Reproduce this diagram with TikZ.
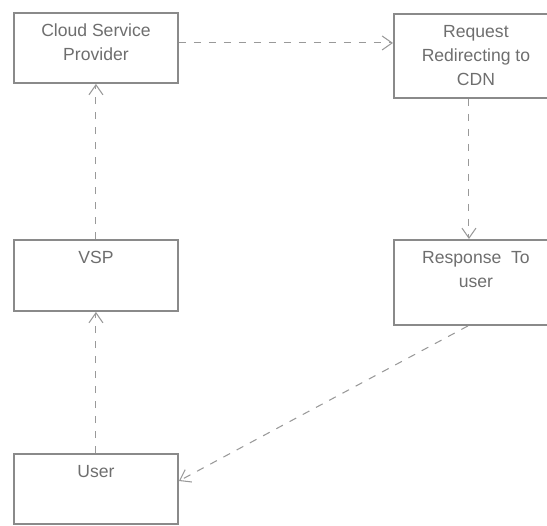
\documentclass[tikz,border=0pt]{standalone}
\usepackage{fontspec}
\setmainfont{Liberation Sans}
\usetikzlibrary{arrows.meta}
\definecolor{boxgray}{HTML}{8A8A8A}
\definecolor{txtgray}{HTML}{6E6E6E}
\definecolor{arrgray}{HTML}{999999}
\newcommand{\blktext}[2]{\parbox[c][#1][t]{3.28cm}{\centering\rule{0pt}{0.47cm}#2}}
\tikzset{
  blk/.style={draw=boxgray, line width=1.1pt, rectangle, inner sep=0pt, anchor=north west,
    text=txtgray, font=\fontsize{10}{13.7}\selectfont},
  flow/.style={draw=arrgray, line width=0.6pt, dash pattern=on 0.15cm off 0.15cm,
    -{Straight Barb[length=0.2cm,width=0.28cm]}}
}
\begin{document}
\begin{tikzpicture}[x=0.02cm, y=-0.02cm]
\useasboundingbox (0,0) rectangle (547,525);
% left column
\node[blk] (csp) at (13,12){\blktext{1.4cm}{Cloud Service\\Provider}};
\node[blk] (vsp) at (13,239){\blktext{1.42cm}{VSP}};
\node[blk] (user) at (13,453){\blktext{1.4cm}{User}};
% right column
\node[blk] (req) at (393,13){\blktext{1.68cm}{Request\\Redirecting to\\CDN}};
\node[blk] (resp) at (393,239){\blktext{1.7cm}{Response\ \ To\\user}};
% connectors
\draw[flow] (user.north) -- (vsp.south);
\draw[flow] (vsp.north) -- (csp.south);
\draw[flow] ([yshift=0.1cm]csp.east) -- ([yshift=0.1cm]csp.east -| req.west);
\draw[flow] ([xshift=-0.14cm]req.south) -- ([xshift=-0.14cm]resp.north);
\draw[flow] ([xshift=-0.16cm]resp.south) -- ([yshift=0.16cm]user.east);
\end{tikzpicture}
\end{document}
